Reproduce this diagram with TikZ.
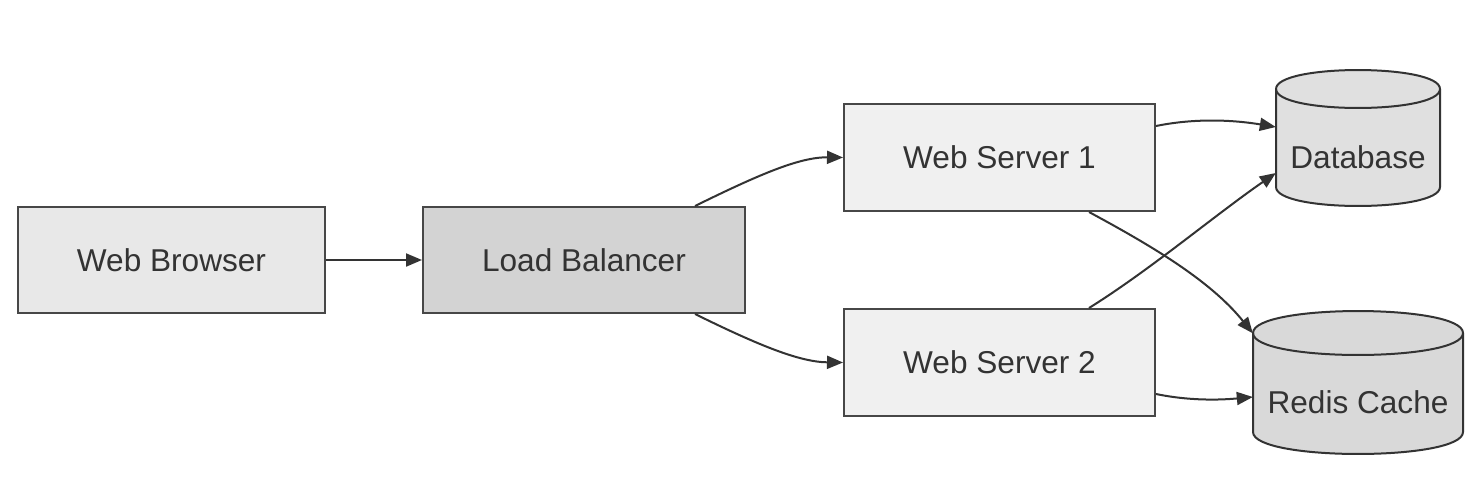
\documentclass[tikz,border=0pt]{standalone}
\usepackage{fontspec}
\setmainfont{Liberation Sans}
\usetikzlibrary{arrows.meta,calc}
\definecolor{ink}{HTML}{333333}
\definecolor{wbfill}{HTML}{E8E8E8}
\definecolor{lbfill}{HTML}{D3D3D3}
\definecolor{wsfill}{HTML}{F0F0F0}
\definecolor{dbfill}{HTML}{E0E0E0}
\definecolor{rcfill}{HTML}{D9D9D9}
\tikzset{
  x=1pt,y=-1pt,
  box/.style={draw=ink!90,line width=2pt,inner sep=0pt,text=ink,font=\fontsize{31.6}{36}\selectfont},
  lbl/.style={inner sep=0pt,text=ink,font=\fontsize{31.6}{36}\selectfont},
  cylpath/.style={draw=ink,line width=2pt},
  conn/.style={draw=ink,line width=2pt,-{Triangle[length=16pt,width=13pt]}},
}
\begin{document}
\begin{tikzpicture}
\useasboundingbox (0,0) rectangle (1479,499);
\fill[white] (0,0) rectangle (1479,499);
% boxes
\node[box,fill=wbfill,minimum width=307pt,minimum height=106pt] (wb) at (171.5,260) {Web Browser};
\node[box,fill=lbfill,minimum width=322pt,minimum height=106pt] (lb) at (584,260) {Load Balancer};
\node[box,fill=wsfill,minimum width=311pt,minimum height=107pt] (ws1) at (999.5,157.5) {Web Server 1};
\node[box,fill=wsfill,minimum width=311pt,minimum height=107pt] (ws2) at (999.5,362.5) {Web Server 2};
% database cylinder
\path[cylpath,fill=dbfill] (1276,89) -- (1276,187) .. controls (1276,212.3) and (1440,212.3) .. (1440,187) -- (1440,89)
  .. controls (1440,63.7) and (1276,63.7) .. (1276,89) -- cycle;
\draw[cylpath] (1276,89) .. controls (1276,114.3) and (1440,114.3) .. (1440,89);
\node[lbl,minimum width=164pt,minimum height=98pt] (db) at (1358,157) {Database};
% redis cylinder
\path[cylpath,fill=rcfill] (1253,333) -- (1253,432) .. controls (1253,461.3) and (1463,461.3) .. (1463,432) -- (1463,333)
  .. controls (1463,303.7) and (1253,303.7) .. (1253,333) -- cycle;
\draw[cylpath] (1253,333) .. controls (1253,362.3) and (1463,362.3) .. (1463,333);
\node[lbl,minimum width=210pt,minimum height=99pt] (rc) at (1358,402) {Redis Cache};
% connectors
\draw[conn] (wb.east) -- (lb.west);
\draw[conn] ($(lb.north east)+(-51,0)$) .. controls (760,174) and (800,157) .. (ws1.west);
\draw[conn] ($(lb.south east)+(-51,0)$) .. controls (760,346) and (800,362) .. (ws2.west);
\draw[conn] ($(ws1.north east)+(0,23)$) .. controls (1200,117) and (1240,121) .. ($(db.west)+(0,-30)$);
\draw[conn] ($(ws1.south east)+(-67,0)$) .. controls (1150,245) and (1210,280) .. ($(rc.north west)+(0,-19)$);
\draw[conn] ($(ws2.north east)+(-67,0)$) .. controls (1150,270) and (1215,215) .. ($(db.west)+(0,16)$);
\draw[conn] ($(ws2.south east)+(0,-23)$) .. controls (1190,401) and (1220,400) .. ($(rc.west)+(0,-5)$);
\end{tikzpicture}
\end{document}
